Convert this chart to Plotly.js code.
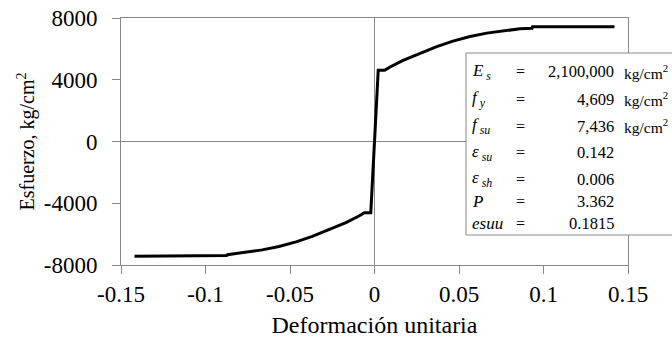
<!DOCTYPE html>
<html>
<head>
<meta charset="utf-8">
<script src="https://cdn.plot.ly/plotly-3.0.1.min.js"></script>
<style>html,body{margin:0;padding:0;background:#fff;}#chart{width:672px;height:341px;}</style>
</head>
<body>
<div id="chart"></div>
<script>
// Strain (deformación unitaria) and stress (esfuerzo, kg/cm2)
const strain = [-0.142, -0.103, -0.1025, -0.0875, -0.087, -0.078, -0.0664, -0.0565, -0.0464, -0.0368, -0.0269, -0.0169, -0.0092, -0.006, -0.0022, -0.0012, 0.0, 0.0012, 0.0022, 0.006, 0.0092, 0.0169, 0.0269, 0.0368, 0.0464, 0.0565, 0.0664, 0.076, 0.0806, 0.0861, 0.0932, 0.0935, 0.142];
const stress = [-7436, -7436, -7390, -7390, -7330, -7200, -7020, -6800, -6500, -6150, -5720, -5250, -4830, -4609, -4609, -2500, 0, 2500, 4609, 4609, 4830, 5250, 5720, 6150, 6500, 6800, 7020, 7170, 7230, 7300, 7340, 7436, 7436];

const xTickVals = [-0.15, -0.1, -0.05, 0, 0.05, 0.1, 0.15];
const xTickText = ['-0.15', '-0.1', '-0.05', '0', '0.05', '0.1', '0.15'];
const yTickVals = [-8000, -4000, 0, 4000, 8000];
const yTickText = ['-8000', '-4000', '0', '4000', '8000'];

const tableSymbols = ['<i>E</i><sub><i> s</i></sub>', '<i>f</i><sub><i> y</i></sub>', '<i>f</i><sub><i> su</i></sub>', '<i>ε</i><sub><i> su</i></sub>', '<i>ε</i><sub><i> sh</i></sub>', '<i>P</i>', '<i>esuu</i>'];
const tableValues = ['2,100,000', '4,609', '7,436', '0.142', '0.006', '3.362', '0.1815'];
const tableUnits = ['kg/cm<sup>2</sup>', 'kg/cm<sup>2</sup>', 'kg/cm<sup>2</sup>', '', '', '', ''];

const FONT = 'Times New Roman';
const W = 672, H = 341;
const L = 121, R = 628, T = 18, B = 265;
const px = x => (x - L) / (R - L);
const py = y => (B - y) / (B - T);

const rowY = [72, 99, 126, 153, 179, 201, 223];
const annotations = [];
tableSymbols.forEach((s, i) => {
  annotations.push({xref: 'paper', yref: 'paper', x: px(470), y: py(rowY[i]), xanchor: 'left', yanchor: 'middle', text: s, showarrow: false, font: {family: FONT, size: 17, color: '#000'}});
  annotations.push({xref: 'paper', yref: 'paper', x: px(520), y: py(rowY[i]), xanchor: 'center', yanchor: 'middle', text: '=', showarrow: false, font: {family: FONT, size: 16, color: '#000'}});
  annotations.push({xref: 'paper', yref: 'paper', x: px(616), y: py(rowY[i]), xanchor: 'right', yanchor: 'middle', text: tableValues[i], showarrow: false, font: {family: FONT, size: 16.5, color: '#000'}});
  if (tableUnits[i]) {
    annotations.push({xref: 'paper', yref: 'paper', x: px(622), y: py(rowY[i]), xanchor: 'left', yanchor: 'middle', text: tableUnits[i], showarrow: false, font: {family: FONT, size: 15.5, color: '#000'}});
  }
});

const data = [{
  x: strain, y: stress, type: 'scatter', mode: 'lines',
  line: {color: '#000', width: 3}, hoverinfo: 'skip'
}];

const axisCommon = {
  showgrid: false, showline: true, mirror: true, linecolor: '#888', linewidth: 1,
  zeroline: true, zerolinecolor: '#888', zerolinewidth: 1,
  ticks: 'outside', ticklen: 8, tickcolor: '#888', tickwidth: 1,
  tickfont: {family: FONT, size: 23, color: '#000'}, tickmode: 'array'
};

const layout = {
  width: W, height: H,
  margin: {l: L, r: W - R, t: T, b: H - B},
  paper_bgcolor: '#fff', plot_bgcolor: '#fff',
  showlegend: false,
  font: {family: FONT, color: '#000'},
  xaxis: Object.assign({}, axisCommon, {
    range: [-0.15, 0.15], tickvals: xTickVals, ticktext: xTickText,
    title: {text: 'Deformación unitaria', font: {family: FONT, size: 24, color: '#000'}, standoff: 10}
  }),
  yaxis: Object.assign({}, axisCommon, {
    range: [-8000, 8000], tickvals: yTickVals, ticktext: yTickText, ticklabelstandoff: 10,
    title: {text: 'Esfuerzo, kg/cm<sup>2</sup>', font: {family: FONT, size: 20, color: '#000'}, standoff: 3}
  }),
  shapes: [{
    type: 'rect', xref: 'paper', yref: 'paper', layer: 'above',
    x0: px(466), x1: px(700), y0: py(235), y1: py(53),
    line: {color: '#888', width: 1}, fillcolor: '#fff'
  }],
  annotations: annotations
};

Plotly.newPlot('chart', data, layout, {displayModeBar: false, staticPlot: true});
</script>
</body>
</html>
